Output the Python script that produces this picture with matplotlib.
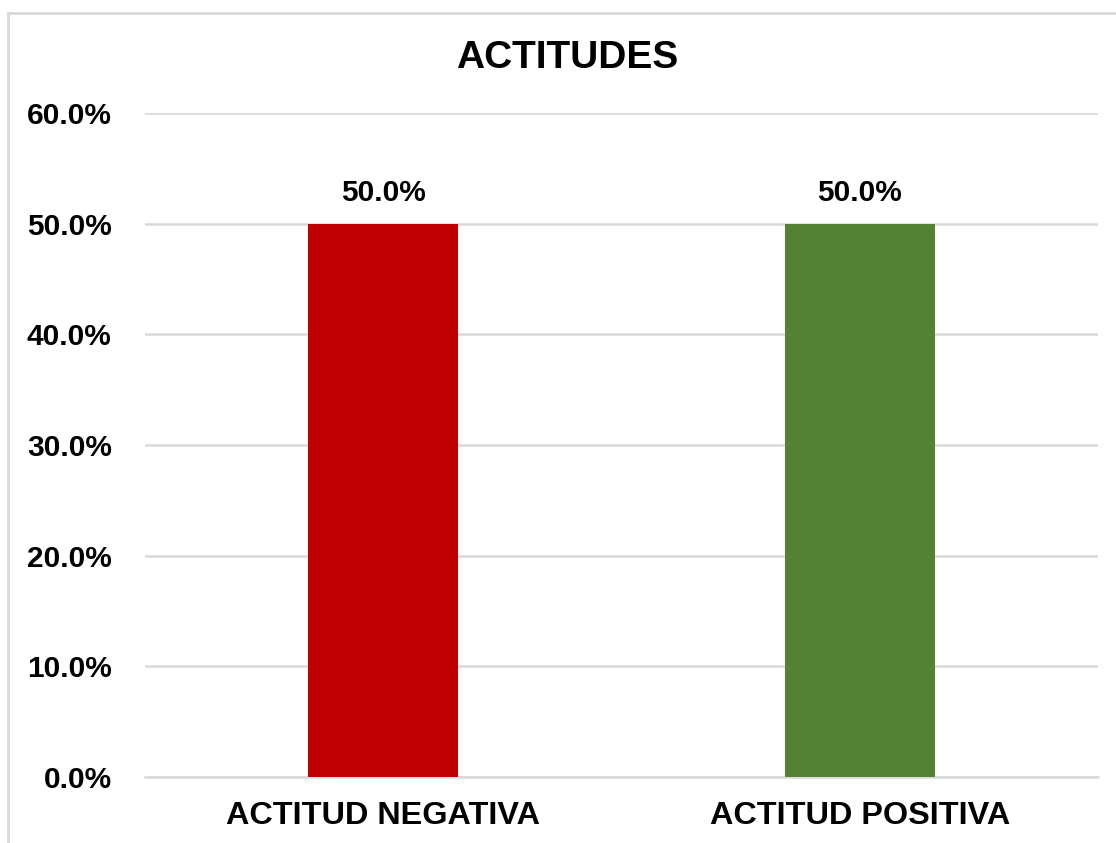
import matplotlib
matplotlib.use("Agg")
from matplotlib import pyplot as plt
from matplotlib.lines import Line2D
from matplotlib.ticker import FuncFormatter

categorias = ["ACTITUD NEGATIVA", "ACTITUD POSITIVA"]
valores = [0.50, 0.50]
colores = ["#C00000", "#548235"]
ticks_y = [0.0, 0.1, 0.2, 0.3, 0.4, 0.5, 0.6]

plt.rcParams['font.family'] = ['Liberation Sans', 'DejaVu Sans']
plt.rcParams['font.weight'] = 'bold'

fig = plt.figure(figsize=(11.16, 8.43), dpi=100)
ax = fig.add_axes([0.130, 0.0783, 0.854, 0.7877])

x = list(range(len(categorias)))
barras = ax.bar(x, valores, width=0.315, color=colores, zorder=3)

# etiquetas de datos
for b, v in zip(barras, valores):
	ax.text(b.get_x() + b.get_width() / 2, v + 0.015, "{:.1f}%".format(v * 100),
		ha="center", va="bottom", fontsize=21.5, fontweight="bold")

ax.set_xlim(-0.5, len(categorias) - 0.5)
ax.set_ylim(0, 0.6)
ax.set_yticks(ticks_y)
ax.yaxis.set_major_formatter(FuncFormatter(lambda v, p: "{:.1f}%".format(v * 100)))
ax.set_xticks(x)
ax.set_xticklabels(categorias)
ax.tick_params(axis="y", length=0, pad=24, labelsize=21.5)
ax.tick_params(axis="x", length=0, pad=17, labelsize=23.3)
for lab in ax.get_xticklabels() + ax.get_yticklabels():
	lab.set_fontweight("bold")

ax.grid(axis="y", color="#D9D9D9", linewidth=1.8, zorder=0)
for s in ["top", "right", "left"]:
	ax.spines[s].set_visible(False)
ax.spines["bottom"].set_color("#D9D9D9")
ax.spines["bottom"].set_linewidth(1.8)

fig.text(0.508, 0.931, "ACTITUDES", ha="center", va="center", fontsize=28, fontweight="bold")

# borde del grafico
fig.add_artist(Line2D([8 / 1116, 1.0], [1 - 13 / 843, 1 - 13 / 843], color="#D9D9D9", linewidth=2))
fig.add_artist(Line2D([8 / 1116, 8 / 1116], [0.0, 1 - 13 / 843], color="#D9D9D9", linewidth=2))

fig.savefig("out.png", dpi=100)
